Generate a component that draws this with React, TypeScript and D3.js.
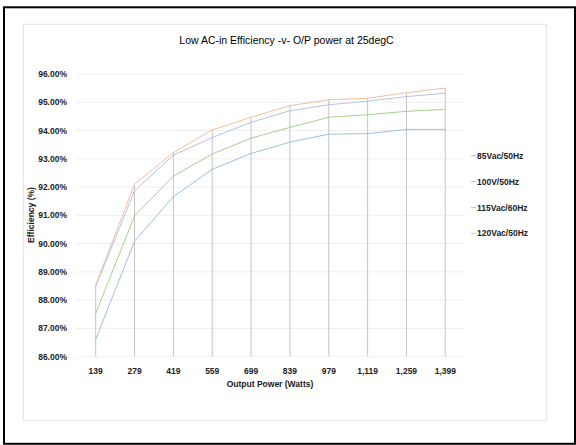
import React, { useEffect } from "react";
import * as d3 from "d3";

const categories = ["139", "279", "419", "559", "699", "839", "979", "1,119", "1,259", "1,399"];
const seriesNames = ["85Vac/50Hz", "100V/50Hz", "115Vac/60Hz", "120Vac/50Hz"];
const v85 = [86.61, 90.09, 91.66, 92.63, 93.19, 93.59, 93.87, 93.89, 94.04, 94.04];
const v100 = [87.53, 90.98, 92.39, 93.17, 93.73, 94.11, 94.47, 94.56, 94.68, 94.75];
const v115 = [88.48, 91.87, 93.13, 93.75, 94.29, 94.7, 94.91, 95.04, 95.2, 95.32];
const v120 = [88.54, 92.1, 93.22, 94.02, 94.47, 94.88, 95.09, 95.14, 95.34, 95.5];
const yTicks = [86, 87, 88, 89, 90, 91, 92, 93, 94, 95, 96];
const colors = ["#9cc0de", "#a8cf8c", "#b3c3e6", "#f4bf9c"];

const allSeries = [v85, v100, v115, v120];

export default function App() {
  useEffect(() => {
    document.body.style.margin = "0";
  }, []);
  const W = 576, H = 445;
  const x = d3.scalePoint<string>().domain(categories).range([95.7, 445.3]);
  const y = d3.scaleLinear().domain([86, 96]).range([356.7, 74]);
  const step = x.step();
  const plotL = (x(categories[0]) as number) - step / 2;
  const plotR = (x(categories[categories.length - 1]) as number) + step / 2;
  const line = d3
    .line<number>()
    .x((_, i) => x(categories[i]) as number)
    .y((d) => y(d));
  const font = "'Liberation Sans', Arial, sans-serif";
  return (
    <svg width={W} height={H} style={{ position: "absolute", left: 0, top: 0, display: "block" }} fontFamily={font}>
      <rect x={0} y={0} width={W} height={H} fill="#fff" />
      {/* outer black frame */}
      <rect x={4} y={7.3} width={571} height={436.5} fill="none" stroke="#000" strokeWidth={2} />
      {/* inner chart area border */}
      <rect x={23.3} y={24.3} width={523.4} height={396.4} fill="#fff" stroke="#e3e3e3" strokeWidth={1} />
      <text x={286.5} y={44} textAnchor="middle" fontSize={10.5} fill="#000">
        Low AC-in Efficiency -v- O/P power at 25degC
      </text>
      {/* gridlines */}
      {yTicks.map((t) => (
        <line key={t} x1={plotL} x2={plotR} y1={y(t)} y2={y(t)} stroke="#efefef" strokeWidth={1} />
      ))}
      {/* y labels */}
      {yTicks.map((t) => (
        <text key={"l" + t} x={67} y={y(t) + 3} textAnchor="end" fontSize={8.5} fontWeight="bold" fill="#222">
          {t.toFixed(2) + "%"}
        </text>
      ))}
      {/* drop lines */}
      {categories.map((c, i) => {
        const top = d3.max(allSeries, (s) => s[i]) as number;
        return (
          <line key={"d" + c} x1={x(c)} x2={x(c)} y1={y(top)} y2={y(86)} stroke="#c4c4c4" strokeWidth={1} />
        );
      })}
      {/* series */}
      {allSeries.map((s, k) => (
        <path key={"s" + k} d={line(s) || ""} fill="none" stroke={colors[k]} strokeWidth={1} />
      ))}
      {/* x labels */}
      {categories.map((c) => (
        <text key={"x" + c} x={x(c)} y={374} textAnchor="middle" fontSize={8.5} fontWeight="bold" fill="#222">
          {c}
        </text>
      ))}
      <text x={270} y={387} textAnchor="middle" fontSize={8.5} fontWeight="bold" fill="#222">
        Output Power (Watts)
      </text>
      <text
        transform={`translate(34,215) rotate(-90)`}
        textAnchor="middle"
        fontSize={8.5}
        fontWeight="bold"
        fill="#222"
      >
        Efficiency (%)
      </text>
      {/* legend */}
      {seriesNames.map((n, k) => {
        const ly = 155.7 + k * 25.9;
        return (
          <g key={n}>
            <line x1={471} x2={476} y1={ly} y2={ly} stroke={colors[k]} strokeWidth={1} />
            <text x={477} y={ly + 3} fontSize={8.5} fontWeight="bold" fill="#222">
              {n}
            </text>
          </g>
        );
      })}
    </svg>
  );
}
